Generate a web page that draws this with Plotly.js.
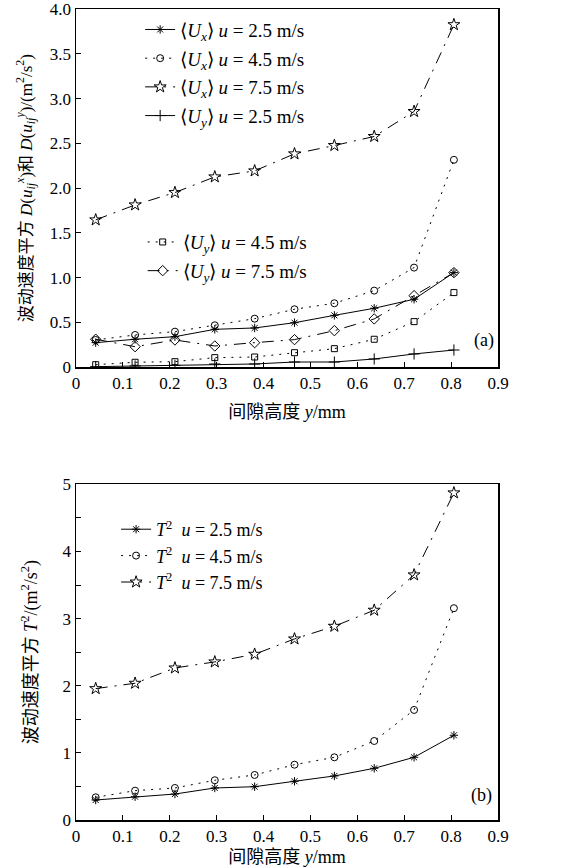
<!DOCTYPE html>
<html>
<head>
<meta charset="utf-8">
<script src="https://cdn.plot.ly/plotly-3.0.1.min.js"></script>
<style>
html,body{margin:0;padding:0;background:#fff;}
#chart{width:565px;height:867px;}
#chart svg text{font-family:"Liberation Serif","Noto Sans CJK SC",serif !important;}
</style>
</head>
<body>
<div id="chart"></div>
<script>
// gap height y (mm)
const gapHeight = [0.042, 0.126, 0.211, 0.296, 0.381, 0.466, 0.551, 0.636, 0.721, 0.806];

// (a) squared fluctuation velocity D(u_ij^x), D(u_ij^y)
const ux25 = [0.275, 0.313, 0.342, 0.424, 0.439, 0.498, 0.580, 0.659, 0.760, 1.057];
const ux45 = [0.305, 0.361, 0.398, 0.469, 0.543, 0.648, 0.715, 0.856, 1.113, 2.316];
const ux75 = [1.646, 1.813, 1.951, 2.126, 2.193, 2.383, 2.476, 2.577, 2.856, 3.825];
const uy25 = [0.007, 0.015, 0.022, 0.037, 0.037, 0.059, 0.059, 0.093, 0.149, 0.193];
const uy45 = [0.029, 0.056, 0.063, 0.108, 0.115, 0.163, 0.208, 0.313, 0.510, 0.834];
const uy75 = [0.313, 0.230, 0.305, 0.238, 0.275, 0.309, 0.409, 0.540, 0.800, 1.057];

// (b) T^2
const t25 = [0.298, 0.347, 0.387, 0.477, 0.496, 0.577, 0.656, 0.770, 0.934, 1.262];
const t45 = [0.338, 0.437, 0.477, 0.592, 0.671, 0.824, 0.934, 1.177, 1.639, 3.155];
const t75 = [1.957, 2.037, 2.265, 2.355, 2.469, 2.697, 2.886, 3.125, 3.651, 4.873];

const xTickVals = [0, 0.1, 0.2, 0.3, 0.4, 0.5, 0.6, 0.7, 0.8, 0.9];
const xTickText = ['0', '0.1', '0.2', '0.3', '0.4', '0.5', '0.6', '0.7', '0.8', '0.9'];
const yaTickVals = [0, 0.5, 1, 1.5, 2, 2.5, 3, 3.5, 4];
const yaTickText = ['0', '0.5', '1.0', '1.5', '2.0', '2.5', '3.0', '3.5', '4.0'];
const ybTickVals = [0, 0.5, 1, 1.5, 2, 2.5, 3, 3.5, 4, 4.5, 5];
const ybTickText = ['0', '', '1', '', '2', '', '3', '', '4', '', '5'];

const SERIF = 'Liberation Serif';
const DOT = '2px,6px';
const DASHDOT = '12px,7px,2px,7px';

function tr(x, y, name, yaxis, xaxis, symbol, size, dash, legend, group) {
  return {
    x: x, y: y, name: name, type: 'scatter', mode: 'lines+markers',
    xaxis: xaxis, yaxis: yaxis, legend: legend, legendgroup: group,
    line: {color: '#000', width: 1, dash: dash},
    marker: {symbol: symbol, size: size, color: '#000', line: {color: '#000', width: 1}}
  };
}

const UX = '\u27E8<i>U</i><sub><i>x</i></sub>\u27E9 <i>u</i> = ';
const UY = '\u27E8<i>U</i><sub><i>y</i></sub>\u27E9 <i>u</i> = ';
const T2 = '<i>T</i><sup>2</sup>  <i>u</i> = ';

const data = [
  tr(gapHeight, ux25, UX + '2.5 m/s', 'y', 'x', 'asterisk-open', 7, 'solid', 'legend', 'a1'),
  tr(gapHeight, ux45, UX + '4.5 m/s', 'y', 'x', 'circle-open', 7, DOT, 'legend', 'a2'),
  tr(gapHeight, ux75, UX + '7.5 m/s', 'y', 'x', 'star-open', 9, DASHDOT, 'legend', 'a3'),
  tr(gapHeight, uy25, UY + '2.5 m/s', 'y', 'x', 'cross-thin-open', 8, 'solid', 'legend', 'a4'),
  tr(gapHeight, uy45, UY + '4.5 m/s', 'y', 'x', 'square-open', 6, DOT, 'legend2', 'a5'),
  tr(gapHeight, uy75, UY + '7.5 m/s', 'y', 'x', 'diamond-open', 8, DASHDOT, 'legend2', 'a6'),
  tr(gapHeight, t25, T2 + '2.5 m/s', 'y2', 'x2', 'asterisk-open', 7, 'solid', 'legend3', 'b1'),
  tr(gapHeight, t45, T2 + '4.5 m/s', 'y2', 'x2', 'circle-open', 7, DOT, 'legend3', 'b2'),
  tr(gapHeight, t75, T2 + '7.5 m/s', 'y2', 'x2', 'star-open', 9, DASHDOT, 'legend3', 'b3')
];

const axisBase = {
  showline: true, mirror: true, linecolor: '#000', linewidth: 1.5,
  ticks: 'inside', ticklen: 5, tickwidth: 1, tickcolor: '#000',
  showgrid: false, zeroline: false, tickfont: {family: SERIF, size: 17, color: '#000'},
  ticklabeloverflow: 'allow', automargin: false, fixedrange: true
};

const legendBase = {
  bgcolor: 'rgba(0,0,0,0)', borderwidth: 0, font: {family: SERIF, size: 19, color: '#000'},
  traceorder: 'grouped', tracegroupgap: 1, xanchor: 'left', yanchor: 'top'
};

const layout = {
  width: 565, height: 867,
  margin: {l: 76, r: 67, t: 9, b: 47},
  paper_bgcolor: '#fff', plot_bgcolor: '#fff',
  font: {family: SERIF, size: 17, color: '#000'},
  showlegend: true,
  xaxis: Object.assign({}, axisBase, {
    domain: [0, 1], anchor: 'y', range: [0, 0.9],
    tickvals: xTickVals, ticktext: xTickText,
    title: {text: '间隙高度 <i>y</i>/mm', font: {family: SERIF, size: 18, color: '#000'}, standoff: 13}
  }),
  yaxis: Object.assign({}, axisBase, {
    domain: [0.5582, 1], anchor: 'x', range: [0, 4],
    tickvals: yaTickVals, ticktext: yaTickText,
    title: {text: '波动速度平方 <i>D</i>(<i>u</i><sub><i>ij</i></sub><sup><i>x</i></sup>)和 <i>D</i>(<i>u</i><sub><i>ij</i></sub><sup><i>y</i></sup>)/(m<sup>2</sup>/s<sup>2</sup>)', font: {family: SERIF, size: 17, color: '#000'}, standoff: 13}
  }),
  xaxis2: Object.assign({}, axisBase, {
    domain: [0, 1], anchor: 'y2', range: [0, 0.9],
    tickvals: xTickVals, ticktext: xTickText,
    title: {text: '间隙高度 <i>y</i>/mm', font: {family: SERIF, size: 18, color: '#000'}, standoff: 13}
  }),
  yaxis2: Object.assign({}, axisBase, {
    domain: [0, 0.4139], anchor: 'x2', range: [0, 5],
    tickvals: ybTickVals, ticktext: ybTickText,
    title: {text: '波动速度平方 <i>T</i><sup>2</sup>/(m<sup>2</sup>/s<sup>2</sup>)', font: {family: SERIF, size: 18, color: '#000'}, standoff: 20}
  }),
  legend: Object.assign({}, legendBase, {x: 0.152, y: 0.998}),
  legend2: Object.assign({}, legendBase, {x: 0.158, y: 0.736}),
  legend3: Object.assign({}, legendBase, {x: 0.095, y: 0.381, tracegroupgap: 0, font: {family: SERIF, size: 18, color: '#000'}}),
  annotations: [
    {xref: 'x', yref: 'y', x: 0.87, y: 0.3, text: '(a)', showarrow: false, font: {family: SERIF, size: 18, color: '#000'}},
    {xref: 'x2', yref: 'y2', x: 0.865, y: 0.37, text: '(b)', showarrow: false, font: {family: SERIF, size: 18, color: '#000'}}
  ]
};

Plotly.newPlot('chart', data, layout, {staticPlot: true, displayModeBar: false});
</script>
</body>
</html>
